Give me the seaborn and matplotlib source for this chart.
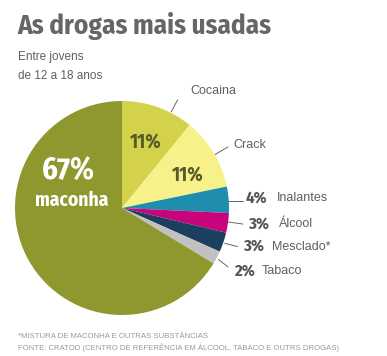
import numpy as np
import matplotlib
matplotlib.use('Agg')
import matplotlib.pyplot as plt
import seaborn as sns

sns.set_style('white')
plt.rcParams['font.family'] = ['Liberation Sans', 'DejaVu Sans']
COND = ['Fira Sans Condensed', 'DejaVu Sans']

# dados
drogas = ['Cocaina', 'Crack', 'Inalantes', 'Álcool', 'Mesclado*', 'Tabaco', 'maconha']
percentuais = [11, 11, 4, 3, 3, 2, 67]
cores = ['#d3d24a', '#f7f18a', '#1f8eae', '#c7047c', '#1c3e5f', '#c0c1c0', '#8e982e']

W, H = 387, 356
fig = plt.figure(figsize=(W / 100, H / 100), dpi=100)
fig.patch.set_facecolor('white')

# pie axes placed in pixel coordinates
cx, cy, r = 122, 208, 107
ax = fig.add_axes([(cx - r) / W, (H - cy - r) / H, 2 * r / W, 2 * r / H])
wedges, _ = ax.pie(percentuais, colors=cores, startangle=90, counterclock=False,
                   radius=1, wedgeprops=dict(linewidth=0))
ax.set_xlim(-1, 1)
ax.set_ylim(-1, 1)
ax.set_aspect('equal')
ax.axis('off')

txt = '#5f5f5f'
fig.text(17 / W, 1 - 26 / H, 'As drogas mais usadas', fontsize=19.5, fontweight='bold',
         family=COND, fontstretch='condensed', color='#666666', va='center', ha='left')
fig.text(18 / W, 1 - 57 / H, 'Entre jovens', fontsize=8.5, color=txt, va='center')
fig.text(18 / W, 1 - 76 / H, 'de 12 a 18 anos', fontsize=8.5, color=txt, va='center')

# labels inside
ax.text(0.22, 0.62, '11%', fontsize=14, fontweight='bold', family=COND, fontstretch='condensed',
        color='#585a2c', ha='center', va='center')
ax.text(0.61, 0.31, '11%', fontsize=14, fontweight='bold', family=COND, fontstretch='condensed',
        color='#585a2c', ha='center', va='center')
ax.text(-0.50, 0.34, '67%', fontsize=22, fontweight='bold', family=COND, fontstretch='condensed',
        color='white', ha='center', va='center')
ax.text(-0.47, 0.07, 'maconha', fontsize=14, fontweight='bold', family=COND, fontstretch='condensed',
        color='white', ha='center', va='center')

# external labels (data coords): leader start/end, percent position, name position
externos = {
    'Cocaina':   dict(start=(0.46, 0.90), end=(0.52, 1.01), pct=None, name=(0.85, 1.09), ha='center'),
    'Crack':     dict(start=(0.87, 0.50), end=(0.99, 0.57), pct=None, name=(1.04, 0.59), ha='left'),
    'Inalantes': dict(start=(0.99, 0.07), end=(1.13, 0.07), pct=(1.16, 0.09), name=(1.45, 0.09), ha='left'),
    'Álcool':    dict(start=(0.99, -0.13), end=(1.13, -0.15), pct=(1.18, -0.15), name=(1.47, -0.15), ha='left'),
    'Mesclado*': dict(start=(0.96, -0.33), end=(1.08, -0.36), pct=(1.13, -0.36), name=(1.40, -0.36), ha='left'),
    'Tabaco':    dict(start=(0.90, -0.48), end=(0.99, -0.55), pct=(1.06, -0.59), name=(1.31, -0.59), ha='left'),
}
for droga, valor in zip(drogas, percentuais):
    if droga not in externos:
        continue
    e = externos[droga]
    ax.plot([e['start'][0], e['end'][0]], [e['start'][1], e['end'][1]],
            color='#666666', lw=0.7, clip_on=False)
    if e['pct'] is not None:
        ax.text(e['pct'][0], e['pct'][1], f'{valor}%', fontsize=12, fontweight='bold',
                family=COND, fontstretch='condensed', color='#555555', ha='left', va='center')
    ax.text(e['name'][0], e['name'][1], droga, fontsize=9, color=txt, ha=e['ha'], va='center')

fig.text(18 / W, 1 - 336 / H, '*MISTURA DE MACONHA E OUTRAS SUBSTÂNCIAS', fontsize=5.6,
         color='#999999', va='center')
fig.text(18 / W, 1 - 348 / H, 'FONTE: CRATOD (CENTRO DE REFERÊNCIA EM ÁLCOOL, TABACO E OUTRS DROGAS)',
         fontsize=5.6, color='#999999', va='center')

fig.savefig('out.png', dpi=100, facecolor='white')
